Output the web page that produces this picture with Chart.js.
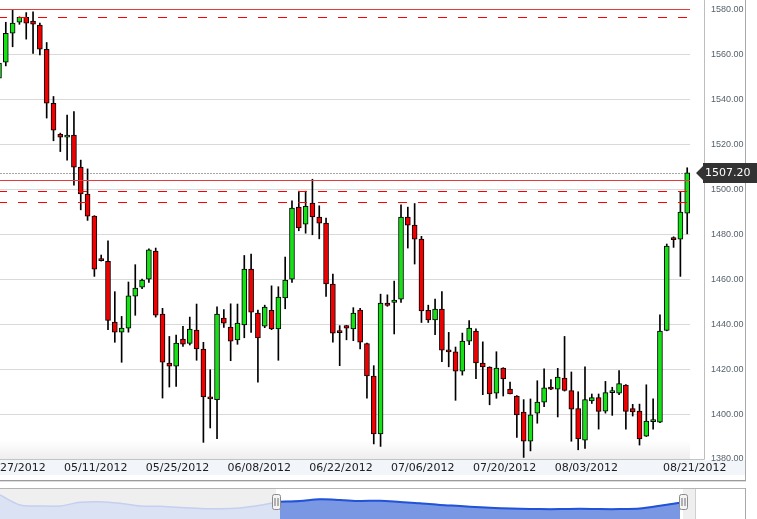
<!DOCTYPE html>
<html>
<head>
<meta charset="UTF-8">
<title>Daily candles 04/2012 - 08/2012</title>
<script src="https://cdn.jsdelivr.net/npm/chart.js@4"></script>
<style>
html, body { margin: 0; padding: 0; background: #fff; }
#wrap { position: relative; width: 757px; height: 519px; overflow: hidden; }
#main { position: absolute; left: 0; top: 0; }
#nav  { position: absolute; left: 0; top: 489px; }
</style>
</head>
<body>
<div id="wrap">
  <canvas id="main" width="757" height="519"></canvas>
  <canvas id="nav" width="695" height="30"></canvas>
</div>
<script>
// Candle values (one candle per session, oldest first)
const opens = [
    1549.3, 1556.4, 1569.3, 1574.2, 1576.4, 1574.7, 1572.9, 1562.2, 1538.2, 1524.4,
    1523.1, 1524.0, 1509.8, 1497.8, 1488.0, 1468.4, 1467.9, 1440.9, 1436.4, 1438.2,
    1452.4, 1456.4, 1460.0, 1472.4, 1444.4, 1422.7, 1421.3, 1433.3, 1431.4, 1437.3,
    1428.9, 1407.6, 1406.4, 1442.7, 1438.7, 1432.9, 1439.6, 1464.4, 1444.9, 1439.1,
    1446.1, 1437.8, 1451.6, 1460.0, 1492.0, 1484.4, 1493.8, 1487.6, 1484.9, 1457.8,
    1436.3, 1439.3, 1437.8, 1446.2, 1431.3, 1416.9, 1391.1, 1449.3, 1449.6, 1451.1,
    1487.6, 1484.0, 1477.8, 1446.1, 1441.8, 1446.7, 1428.4, 1427.6, 1419.1, 1432.4,
    1436.9, 1422.7, 1420.9, 1409.3, 1420.4, 1411.1, 1408.0, 1400.9, 1387.9, 1400.4,
    1405.3, 1412.0, 1411.1, 1416.0, 1410.4, 1402.4, 1388.4, 1405.8, 1407.3, 1401.3,
    1409.5, 1409.3, 1412.9, 1402.4, 1401.3, 1390.2, 1396.6, 1396.4, 1437.2, 1478.5,
    1477.8, 1489.3
];
const highs = [
    1557.5, 1574.2, 1579.7, 1576.6, 1578.5, 1578.8, 1573.8, 1565.2, 1541.2, 1524.9,
    1532.9, 1534.5, 1512.9, 1509.0, 1488.2, 1470.7, 1477.0, 1454.4, 1443.4, 1458.7,
    1466.4, 1460.0, 1473.5, 1473.8, 1447.0, 1434.5, 1435.1, 1439.0, 1443.1, 1448.9,
    1431.9, 1419.7, 1447.7, 1446.4, 1449.0, 1448.9, 1470.5, 1471.1, 1446.2, 1448.4,
    1457.0, 1456.6, 1469.8, 1494.8, 1499.1, 1499.1, 1504.4, 1492.6, 1487.1, 1462.2,
    1439.3, 1439.4, 1447.3, 1447.0, 1431.6, 1421.5, 1453.3, 1453.0, 1459.1, 1493.0,
    1492.0, 1493.6, 1479.0, 1448.4, 1451.1, 1454.5, 1436.3, 1429.8, 1436.0, 1441.5,
    1437.9, 1432.1, 1421.0, 1427.7, 1420.6, 1414.2, 1408.2, 1406.4, 1406.7, 1414.8,
    1420.1, 1415.3, 1420.3, 1434.5, 1418.7, 1409.9, 1421.0, 1408.9, 1408.9, 1414.5,
    1411.9, 1419.3, 1413.1, 1404.3, 1404.4, 1413.0, 1406.7, 1444.1, 1475.6, 1478.8,
    1498.7, 1509.5
];
const lows = [
    1546.0, 1554.8, 1563.3, 1573.3, 1566.7, 1560.4, 1559.7, 1531.6, 1521.5, 1516.7,
    1512.9, 1501.8, 1490.8, 1486.1, 1461.2, 1468.0, 1437.5, 1431.9, 1423.0, 1436.4,
    1443.9, 1455.7, 1458.5, 1443.1, 1407.1, 1412.0, 1412.3, 1430.1, 1430.7, 1423.9,
    1387.4, 1393.8, 1389.0, 1438.5, 1423.7, 1431.0, 1433.9, 1436.3, 1414.2, 1438.4,
    1437.5, 1423.9, 1446.8, 1458.5, 1481.5, 1480.4, 1479.7, 1477.9, 1452.3, 1431.9,
    1421.5, 1433.0, 1432.6, 1428.9, 1407.0, 1386.7, 1385.6, 1447.9, 1435.6, 1449.6,
    1473.8, 1466.7, 1440.7, 1440.7, 1435.3, 1423.3, 1421.0, 1406.1, 1417.3, 1430.8,
    1415.7, 1408.6, 1404.1, 1407.0, 1408.0, 1408.9, 1389.6, 1380.7, 1383.6, 1395.9,
    1403.3, 1410.8, 1398.7, 1410.2, 1387.9, 1384.1, 1384.7, 1404.7, 1393.3, 1400.4,
    1399.4, 1408.6, 1393.3, 1399.1, 1386.2, 1390.0, 1393.3, 1396.2, 1437.0, 1474.1,
    1461.2, 1480.1
];
const closes = [
    1556.0, 1569.3, 1573.8, 1576.4, 1573.8, 1573.3, 1562.2, 1538.2, 1526.2, 1523.1,
    1524.0, 1509.8, 1497.9, 1488.0, 1464.4, 1468.2, 1441.6, 1436.4, 1438.2, 1452.6,
    1456.0, 1459.6, 1473.0, 1444.0, 1423.1, 1421.3, 1431.6, 1431.1, 1437.8, 1428.9,
    1407.6, 1406.7, 1444.4, 1440.4, 1432.4, 1440.4, 1464.4, 1445.3, 1433.8, 1447.6,
    1437.8, 1452.0, 1459.6, 1491.6, 1482.7, 1492.4, 1487.6, 1484.9, 1457.8, 1436.0,
    1436.2, 1438.2, 1444.9, 1432.0, 1416.9, 1391.1, 1449.3, 1448.3, 1450.7, 1487.6,
    1484.0, 1477.8, 1445.8, 1441.8, 1446.7, 1428.4, 1427.6, 1419.1, 1432.4, 1438.2,
    1422.7, 1420.9, 1408.9, 1420.4, 1415.6, 1408.9, 1399.6, 1387.9, 1399.6, 1405.3,
    1411.6, 1411.1, 1416.4, 1410.5, 1402.2, 1388.9, 1406.4, 1407.3, 1401.2, 1409.5,
    1409.5, 1413.5, 1401.2, 1400.9, 1388.9, 1396.9, 1396.6, 1436.9, 1474.7, 1477.5,
    1489.8, 1507.2
];

// Date labels on the time axis and the candle they sit under
const xTickPos    = [2.2, 14.2, 26.2, 38.2, 50.2, 62.2, 74.2, 86.2, 102.1];
const xTickLabels = ['04/27/2012', '05/11/2012', '05/25/2012', '06/08/2012', '06/22/2012',
                     '07/06/2012', '07/20/2012', '08/03/2012', '08/21/2012'];
const yTicks      = [1380, 1400, 1420, 1440, 1460, 1480, 1500, 1520, 1540, 1560, 1580];

// Horizontal levels drawn across the plot
const solidLevels  = [1580, 1504];
const dashedLevels = [1576.5, 1499, 1494.1];

// Navigator (overview strip) values and the window shown above
const navValues = [
    1600, 1433, 1417, 1417, 1478, 1488, 1462, 1417, 1411, 1390,
    1375, 1370, 1385, 1428, 1488, 1500, 1528, 1517, 1500, 1505,
    1483, 1462, 1433, 1417, 1395, 1380, 1370, 1365, 1365, 1370,
    1365, 1365, 1375, 1420, 1470
];
const navWindow = [13.8, 34.15];

const UP   = '#16e016';
const DOWN = '#f00000';
const last = closes.length - 1;

const mainDecor = {
    id: 'mainDecor',
    beforeDraw(chart) {
        const {ctx, chartArea: a} = chart;
        ctx.save();
        const g = ctx.createLinearGradient(0, a.bottom - 18, 0, a.bottom);
        g.addColorStop(0, '#ffffff');
        g.addColorStop(1, '#eeeeee');
        ctx.fillStyle = g;
        ctx.fillRect(a.left, a.bottom - 18, a.right - a.left, 18);
        ctx.fillStyle = '#f2f6fb';
        ctx.fillRect(0, a.bottom + 1, 745, 15);
        ctx.restore();
    },
    beforeDatasetsDraw(chart) {
        const {ctx, chartArea: a, scales: {y}} = chart;
        const py = Math.round(y.getPixelForValue(closes[last])) + 0.5;
        ctx.save();
        ctx.strokeStyle = '#a6a6a6';
        ctx.lineWidth   = 1;
        ctx.setLineDash([2, 1]);
        ctx.beginPath();
        ctx.moveTo(a.left, py);
        ctx.lineTo(a.right, py);
        ctx.stroke();
        ctx.restore();
    },
    afterDatasetsDraw(chart) {
        const {ctx, chartArea: a, scales: {y}} = chart;
        ctx.save();
        ctx.lineWidth = 1;
        ctx.strokeStyle = '#e8393c';
        solidLevels.forEach((v) => {
            const py = Math.round(y.getPixelForValue(v)) + 0.5;
            ctx.beginPath();
            ctx.moveTo(a.left, py);
            ctx.lineTo(a.right, py);
            ctx.stroke();
        });
        ctx.strokeStyle = '#ff0000';
        ctx.setLineDash([9, 11]);
        ctx.lineDashOffset = 2;
        dashedLevels.forEach((v) => {
            const py = Math.round(y.getPixelForValue(v)) + 0.5;
            ctx.beginPath();
            ctx.moveTo(a.left, py);
            ctx.lineTo(a.right, py);
            ctx.stroke();
        });
        ctx.restore();
    },
    afterDraw(chart) {
        const {ctx, chartArea: a, scales: {y}} = chart;
        ctx.save();
        ctx.lineWidth = 1;
        const line = (color, x1, y1, x2, y2) => {
            ctx.strokeStyle = color;
            ctx.beginPath();
            ctx.moveTo(x1, y1);
            ctx.lineTo(x2, y2);
            ctx.stroke();
        };
        line('#bdbdbd', 704.5, 0, 704.5, a.bottom + 0.5);
        line('#c4c4c4', 0, a.bottom + 0.5, 704.5, a.bottom + 0.5);
        line('#a9a9a9', 745.5, 0, 745.5, 482);
        line('#9c9c9c', 0, 480.5, 746, 480.5);
        line('#dddddd', 0, 481.5, 746, 481.5);
        line('#b4b4b4', 0, 488.5, 746, 488.5);
        line('#a9a9a9', 745.5, 488, 745.5, 519);
        line('#cfcfcf', 695.5, 489, 695.5, 519);

        // last price tag
        const py = Math.round(y.getPixelForValue(closes[last]));
        ctx.fillStyle = '#333333';
        ctx.beginPath();
        ctx.moveTo(696, py);
        ctx.lineTo(703, py - 7);
        ctx.lineTo(703, py - 10);
        ctx.lineTo(757, py - 10);
        ctx.lineTo(757, py + 10);
        ctx.lineTo(703, py + 10);
        ctx.lineTo(703, py + 7);
        ctx.closePath();
        ctx.fill();
        ctx.fillStyle    = '#ffffff';
        ctx.font         = '11px "DejaVu Sans"';
        ctx.textAlign    = 'left';
        ctx.textBaseline = 'middle';
        ctx.fillText(closes[last].toFixed(2), 705, py + 0.5);
        ctx.restore();
    }
};

new Chart(document.getElementById('main'), {
    type: 'bar',
    data: {
        datasets: [
            {
                label: 'body',
                data: opens.map((o, i) => ({x: i, y: [o, closes[i]]})),
                backgroundColor: (c) => (closes[c.dataIndex] >= opens[c.dataIndex] ? UP : DOWN),
                borderColor: '#000000',
                borderWidth: 1,
                borderSkipped: false,
                barThickness: 5,
                minBarLength: 2,
                grouped: false
            },
            {
                label: 'wick',
                data: lows.map((l, i) => ({x: i, y: [l, highs[i]]})),
                backgroundColor: '#000000',
                borderWidth: 0,
                barThickness: 1,
                grouped: false
            }
        ]
    },
    options: {
        responsive: false,
        animation: false,
        events: [],
        layout: {padding: {left: 0, right: 0, top: 0, bottom: 44}},
        plugins: {legend: {display: false}, tooltip: {enabled: false}},
        scales: {
            x: {
                type: 'linear',
                min: 0.15,
                max: 101.41,
                offset: false,
                grid: {display: false, drawTicks: false, offset: false},
                border: {display: false},
                afterBuildTicks: (s) => { s.ticks = xTickPos.map((v) => ({value: v})); },
                afterFit: (s) => { s.height = 16; s.paddingLeft = 0; s.paddingRight = 0; },
                ticks: {
                    autoSkip: false,
                    maxRotation: 0,
                    padding: 3,
                    color: '#202020',
                    font: {family: 'DejaVu Sans', size: 11},
                    callback: (v, i) => xTickLabels[i]
                }
            },
            y: {
                position: 'right',
                min: 1380,
                max: 1584.1,
                grid: {color: '#d9d9d9', drawTicks: false},
                border: {display: false},
                afterBuildTicks: (s) => { s.ticks = yTicks.map((v) => ({value: v})); },
                afterFit: (s) => { s.width = 67; s.paddingTop = 0; s.paddingBottom = 0; },
                ticks: {
                    padding: 21,
                    color: '#56626c',
                    font: {family: 'Liberation Sans', size: 9},
                    callback: (v) => v.toFixed(2)
                }
            }
        }
    },
    plugins: [mainDecor]
});

const navDecor = {
    id: 'navDecor',
    beforeDraw(chart) {
        const {ctx, width, height, scales: {x}} = chart;
        const x0 = x.getPixelForValue(navWindow[0]);
        const x1 = x.getPixelForValue(navWindow[1]);
        ctx.save();
        ctx.fillStyle = '#efefef';
        ctx.fillRect(0, 0, width, height);
        ctx.fillStyle = '#ffffff';
        ctx.fillRect(x0, 0, x1 - x0, height);
        ctx.restore();
    },
    afterDraw(chart) {
        const {ctx, scales: {x}} = chart;
        ctx.save();
        navWindow.forEach((v) => {
            const px = Math.round(x.getPixelForValue(v)) + 0.5;
            ctx.fillStyle   = '#f4f4f4';
            ctx.strokeStyle = '#8a8a8a';
            ctx.lineWidth   = 1;
            ctx.beginPath();
            ctx.roundRect(px - 4, 5.5, 8, 15, 2);
            ctx.fill();
            ctx.stroke();
            ctx.strokeStyle = '#6f6f6f';
            ctx.beginPath();
            ctx.moveTo(px - 1.5, 9);
            ctx.lineTo(px - 1.5, 17);
            ctx.moveTo(px + 1.5, 9);
            ctx.lineTo(px + 1.5, 17);
            ctx.stroke();
        });
        ctx.restore();
    }
};

new Chart(document.getElementById('nav'), {
    type: 'line',
    data: {
        datasets: [
            {
                data: navValues.map((v, i) => ({x: i, y: v})).filter((p) => p.x >= 14),
                borderColor: '#2152d8',
                borderWidth: 2,
                backgroundColor: 'rgba(98, 132, 224, 0.8)',
                fill: 'start',
                pointRadius: 0,
                tension: 0.3
            },
            {
                data: navValues.map((v, i) => ({x: i, y: v})),
                borderColor: '#c3d0ef',
                borderWidth: 1.5,
                backgroundColor: '#dae2f4',
                fill: 'start',
                pointRadius: 0,
                tension: 0.3
            }
        ]
    },
    options: {
        responsive: false,
        animation: false,
        events: [],
        layout: {padding: 0},
        plugins: {legend: {display: false}, tooltip: {enabled: false}},
        scales: {
            x: {type: 'linear', display: false, min: 0, max: 34.75},
            y: {display: false, min: 1200, max: 1700}
        }
    },
    plugins: [navDecor]
});
</script>
</body>
</html>
